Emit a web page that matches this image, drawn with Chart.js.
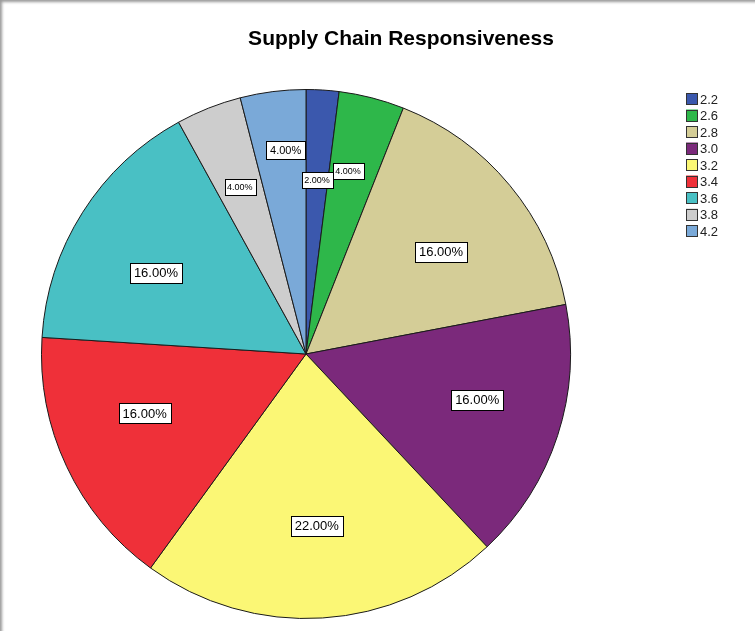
<!DOCTYPE html>
<html>
<head>
<meta charset="utf-8">
<script src="https://cdn.jsdelivr.net/npm/chart.js@4/dist/chart.umd.min.js"></script>
<style>
  body { margin: 0; background: #fff; }
  #wrap { position: relative; width: 755px; height: 631px; }
  #frame { position: absolute; left: 0; top: 0; width: 755px; height: 631px;
           box-shadow: inset 3px 3px 3px -1px #9a9a9a; pointer-events: none; }
</style>
</head>
<body>
<div id="wrap">
  <canvas id="pieChart" width="755" height="631"></canvas>
  <div id="frame"></div>
</div>
<script>
// values
var categorias = ["2.2", "2.6", "2.8", "3.0", "3.2", "3.4", "3.6", "3.8", "4.2"]
var percentagens = [2, 4, 16, 16, 22, 16, 16, 4, 4]
var cores = ["#3b58ad", "#2eb74a", "#d4cd97", "#7b297b", "#fbf775", "#ef3039", "#49c0c4", "#cdcdcd", "#7aa9d8"]
var titulo = "Supply Chain Responsiveness"

// where SPSS put each label: fraction of radius and small angle shift (deg)
var rotuloRaio = [0.66, 0.71, 0.64, 0.67, 0.65, 0.65, 0.645, 0.68, 0.775]
var rotuloDesvio = [0, -1.5, 2.5, -3, 0, 5, -4, 0, 1.5]
var rotuloFonte = [9, 9, 13, 13, 13, 13, 13, 9, 11]

// labels inside the slices (white box, black border)
var rotulosPlugin = {
    id: 'rotulos',
    afterDatasetsDraw: function (chart) {
        var ctx = chart.ctx
        var meta = chart.getDatasetMeta(0)
        ctx.save()
        meta.data.forEach(function (arc, i) {
            var p = arc.getProps(['x', 'y', 'startAngle', 'endAngle', 'outerRadius'], true)
            var mid = (p.startAngle + p.endAngle) / 2 + rotuloDesvio[i] * Math.PI / 180
            var x = p.x + Math.cos(mid) * p.outerRadius * rotuloRaio[i]
            var y = p.y + Math.sin(mid) * p.outerRadius * rotuloRaio[i]
            var txt = percentagens[i].toFixed(2) + "%"
            var size = rotuloFonte[i]
            ctx.font = size + "px 'Liberation Sans', Arial, sans-serif"
            var w = ctx.measureText(txt).width + (size > 10 ? 8 : 5)
            var h = size + 7
            var bx = Math.round(x - w / 2), by = Math.round(y - h / 2)
            ctx.fillStyle = "#fff"
            ctx.fillRect(bx, by, Math.round(w), Math.round(h))
            ctx.strokeStyle = "#000"
            ctx.lineWidth = 1
            ctx.strokeRect(bx + 0.5, by + 0.5, Math.round(w), Math.round(h))
            ctx.fillStyle = "#000"
            ctx.textAlign = "center"
            ctx.textBaseline = "middle"
            ctx.fillText(txt, x, y + 1)
        })
        ctx.restore()
    }
}

// title + legend drawn by hand so they sit where the reference has them
var extrasPlugin = {
    id: 'extras',
    afterDraw: function (chart) {
        var ctx = chart.ctx
        ctx.save()
        ctx.fillStyle = "#000"
        ctx.font = "bold 21px 'Liberation Sans', Arial, sans-serif"
        ctx.textAlign = "center"
        ctx.textBaseline = "middle"
        ctx.fillText(titulo, 401, 39)

        ctx.font = "13px 'Liberation Sans', Arial, sans-serif"
        ctx.textAlign = "left"
        for (var i = 0; i < categorias.length; i++) {
            var y = 93 + i * 16.5
            ctx.fillStyle = cores[i]
            ctx.fillRect(686, y, 12, 12)
            ctx.strokeStyle = "#333"
            ctx.lineWidth = 1
            ctx.strokeRect(686.5, Math.round(y) + 0.5, 11, 11)
            ctx.fillStyle = "#222"
            ctx.fillText(categorias[i], 700, y + 7)
        }
        ctx.restore()
    }
}

var ctxP = document.getElementById("pieChart").getContext('2d')
var grafico = new Chart(ctxP, {
    type: 'pie',
    data: {
        labels: categorias,
        datasets: [{
            data: percentagens,
            backgroundColor: cores,
            borderColor: "#1a1a1a",
            borderWidth: 1
        }]
    },
    options: {
        responsive: false,
        animation: false,
        layout: { padding: { left: 41, right: 184, top: 89, bottom: 12 } },
        plugins: {
            legend: { display: false },
            title: { display: false },
            tooltip: { enabled: false }
        }
    },
    plugins: [rotulosPlugin, extrasPlugin]
})
</script>
</body>
</html>
